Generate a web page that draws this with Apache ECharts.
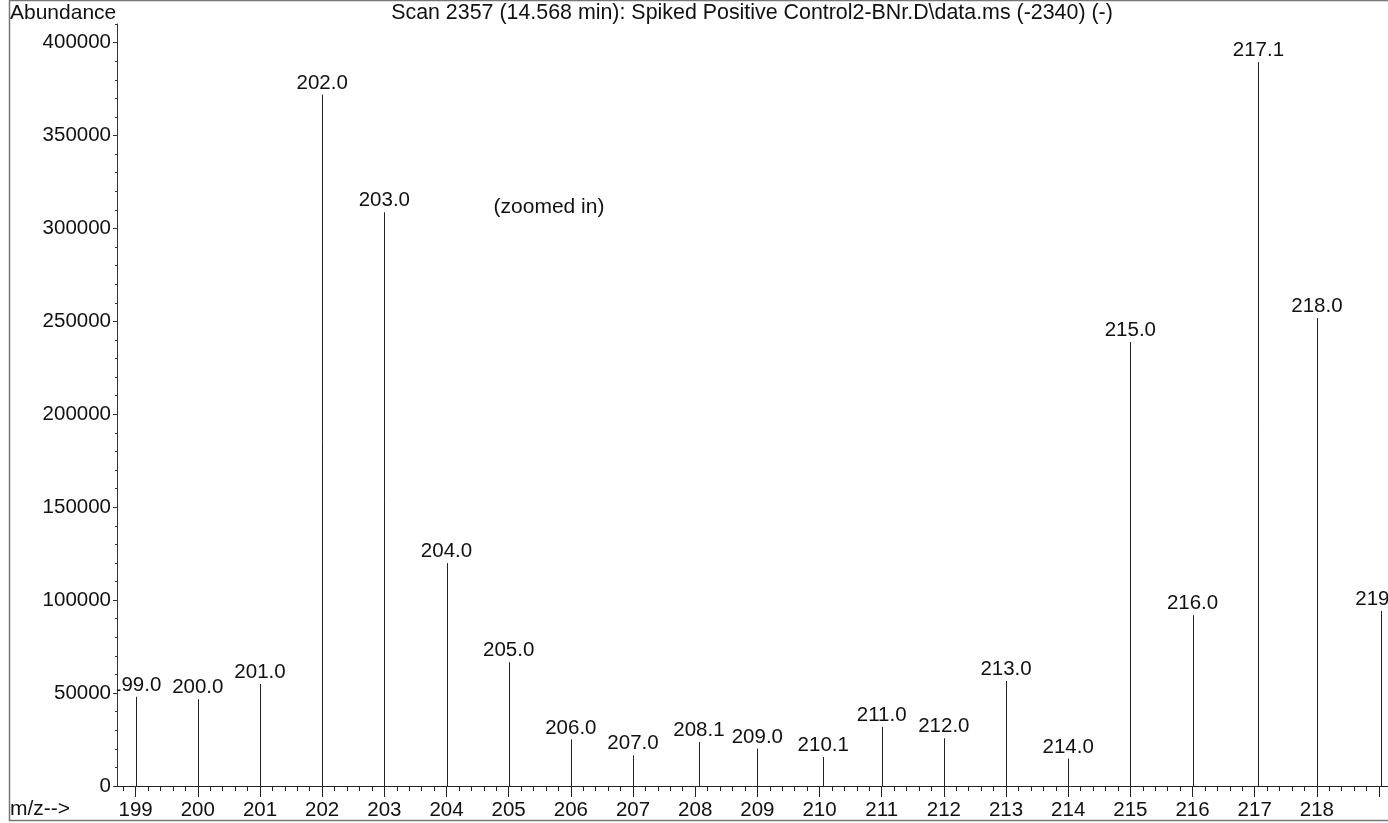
<!DOCTYPE html>
<html>

<head>
    <meta charset="UTF-8">
    <script src="https://cdn.jsdelivr.net/npm/echarts@6.0.0/dist/echarts.min.js"></script>
    <style>
        html, body { margin: 0; padding: 0; background: #fff; }
    </style>
</head>

<body>
    <div id="main" style="width: 1388px;height:823px"></div>
    <script>
    // peaks (m/z, abundance, printed label)
    var mzValues = [199.0, 200.0, 201.0, 202.0, 203.0, 204.0, 205.0, 206.0, 207.0, 208.06, 209.0,
        210.06, 211.0, 212.0, 213.0, 214.0, 215.0, 216.0, 217.06, 218.0, 219.03];
    var abundance = [48000, 46700, 54900, 372000, 308700, 119900, 66600, 25100, 16500, 23700, 20100,
        15600, 31800, 25700, 56500, 14750, 238900, 91900, 389500, 251800, 94200];
    var peakLabels = ['199.0', '200.0', '201.0', '202.0', '203.0', '204.0', '205.0', '206.0', '207.0', '208.1', '209.0',
        '210.1', '211.0', '212.0', '213.0', '214.0', '215.0', '216.0', '217.1', '218.0', '219.0'];

    // axis ticks
    var xMajorTicks = [199, 200, 201, 202, 203, 204, 205, 206, 207, 208, 209, 210, 211, 212, 213, 214, 215, 216, 217, 218, 219];
    var xTickLabels = [199, 200, 201, 202, 203, 204, 205, 206, 207, 208, 209, 210, 211, 212, 213, 214, 215, 216, 217, 218];
    var yMajorTicks = [0, 50000, 100000, 150000, 200000, 250000, 300000, 350000, 400000];

    var xMin = 198.7, xMax = 219.144;
    var yMax = 410000;

    // minor ticks every 0.2 on x, every 10000 on y
    var xMinorTicks = [];
    for (var i = 994; i <= 1095; i++) xMinorTicks.push(+(i * 0.2).toFixed(1));
    var yMinorTicks = [];
    for (var j = 0; j <= 41; j++) yMinorTicks.push(j * 10000);

    var FONT = '"Liberation Sans", Arial, Helvetica, sans-serif';
    var peakData = mzValues.map(function (m, k) { return [m, abundance[k]]; });

    var option = {
        animation: false,
        backgroundColor: '#fff',
        grid: { left: 117, right: 0, top: 24, bottom: 37, containLabel: false, outerBoundsMode: 'none' },
        xAxis: [{
            type: 'value', min: xMin, max: xMax,
            axisLine: { show: true, lineStyle: { color: '#222', width: 1 } },
            axisTick: { show: true, length: 11, customValues: xMajorTicks, lineStyle: { color: '#222' } },
            axisLabel: {
                customValues: xTickLabels, margin: 14,
                fontSize: 20.5, fontFamily: FONT, color: '#111',
                formatter: function (v) { return String(v); }
            },
            splitLine: { show: false }
        }, {
            type: 'value', min: xMin, max: xMax, position: 'bottom',
            axisLine: { show: false },
            axisTick: { show: true, length: 5, customValues: xMinorTicks, lineStyle: { color: '#222' } },
            axisLabel: { show: false },
            splitLine: { show: false }
        }],
        yAxis: [{
            type: 'value', min: 0, max: yMax,
            axisLine: { show: true, lineStyle: { color: '#333', width: 1 } },
            axisTick: { show: true, length: 4, customValues: yMajorTicks, lineStyle: { color: '#333' } },
            axisLabel: {
                customValues: yMajorTicks, margin: 6,
                fontSize: 20.5, fontFamily: FONT, color: '#111',
                formatter: function (v) { return String(v); }
            },
            splitLine: { show: false }
        }, {
            type: 'value', min: 0, max: yMax, position: 'left',
            axisLine: { show: false },
            axisTick: { show: true, length: 2, customValues: yMinorTicks, lineStyle: { color: '#333' } },
            axisLabel: { show: false },
            splitLine: { show: false }
        }],
        series: [{
            type: 'custom',
            clip: true,
            xAxisIndex: 0,
            yAxisIndex: 0,
            data: peakData,
            renderItem: function (params, api) {
                var base = api.coord([api.value(0), 0]);
                var top = api.coord([api.value(0), api.value(1)]);
                var x = Math.round(top[0]) + 0.5;
                return {
                    type: 'group',
                    children: [{
                        type: 'line',
                        shape: { x1: x, y1: base[1], x2: x, y2: top[1] },
                        style: { stroke: '#222', lineWidth: 1 }
                    }, {
                        type: 'text',
                        style: {
                            text: peakLabels[params.dataIndex],
                            x: top[0], y: top[1] - 1,
                            align: 'center', verticalAlign: 'bottom',
                            textAlign: 'center', textVerticalAlign: 'bottom',
                            font: '20.5px ' + FONT,
                            fill: '#111'
                        }
                    }]
                };
            }
        }],
        graphic: [{
            type: 'rect',
            shape: { x: 9.5, y: 0.5, width: 1400, height: 820 },
            style: { fill: 'none', stroke: '#777', lineWidth: 1.5 },
            silent: true
        }, {
            type: 'text',
            style: {
                text: 'Abundance', x: 10, y: 13,
                align: 'left', verticalAlign: 'middle', textAlign: 'left', textVerticalAlign: 'middle',
                font: '21px ' + FONT, fill: '#111'
            }
        }, {
            type: 'text',
            style: {
                text: 'Scan 2357 (14.568 min): Spiked Positive Control2-BNr.D\\data.ms (-2340) (-)',
                x: 752, y: 13,
                align: 'center', verticalAlign: 'middle', textAlign: 'center', textVerticalAlign: 'middle',
                font: '21.4px ' + FONT, fill: '#111'
            }
        }, {
            type: 'text',
            style: {
                text: '(zoomed in)', x: 549, y: 207,
                align: 'center', verticalAlign: 'middle', textAlign: 'center', textVerticalAlign: 'middle',
                font: '21px ' + FONT, fill: '#111'
            }
        }, {
            type: 'text',
            style: {
                text: 'm/z-->', x: 10, y: 809.5,
                align: 'left', verticalAlign: 'middle', textAlign: 'left', textVerticalAlign: 'middle',
                font: '21px ' + FONT, fill: '#111'
            }
        }]
    };

    var myChart = echarts.init(document.getElementById('main'));
    myChart.setOption(option);
    </script>
</body>

</html>
